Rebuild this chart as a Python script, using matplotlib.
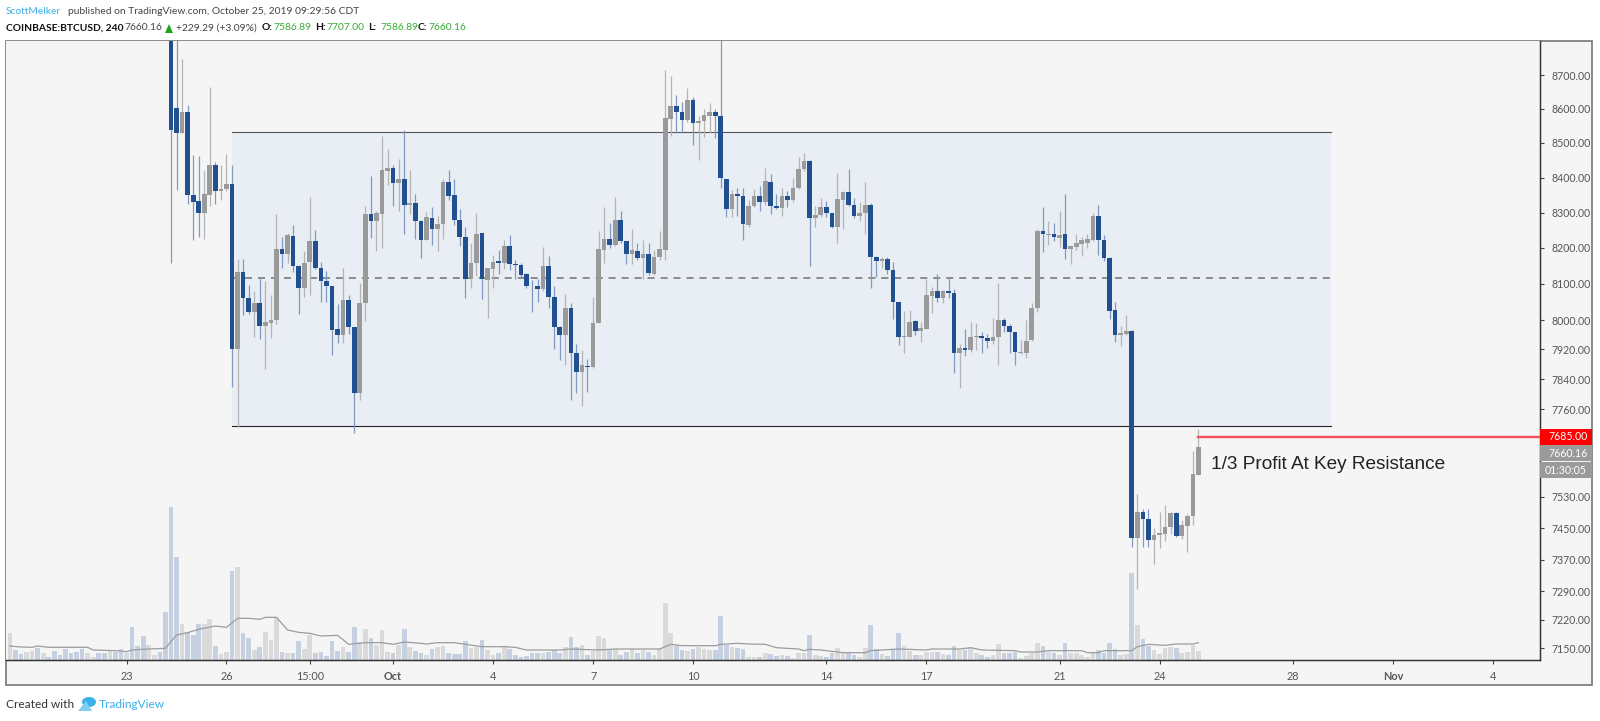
import matplotlib
matplotlib.use("Agg")
import matplotlib.pyplot as plt
from matplotlib.patches import Rectangle, Polygon, Ellipse

W, H = 1600, 721

# candles start at bar 8, bar 0 = Sep 23 00:00, one bar is 4 hours
first_candle = 8
opens = [8870, 8602, 8528, 8590, 8351, 8332, 8298, 8350, 8437, 8360,
         8368, 8382, 7920, 8132, 8060, 8022, 8046, 7983, 7991, 8000,
         8197, 8183, 8233, 8150, 8088, 8160, 8219, 8143, 8107, 8093,
         7975, 7958, 8054, 7980, 7802, 8046, 8296, 8277, 8296, 8420,
         8428, 8385, 8395, 8320, 8326, 8277, 8222, 8284, 8252, 8267,
         8388, 8349, 8280, 8230, 8116, 8158, 8243, 8110, 8140, 8162,
         8158, 8205, 8155, 8152, 8127, 8100, 8095, 8085, 8150, 8062,
         7980, 7958, 8033, 7910, 7858, 7875, 7872, 7991, 8194, 8225,
         8208, 8280, 8219, 8183, 8191, 8171, 8183, 8127, 8175, 8194,
         8570, 8608, 8590, 8567, 8626, 8558, 8564, 8578, 8590, 8580,
         8395, 8310, 8352, 8347, 8264, 8318, 8348, 8330, 8388, 8318,
         8312, 8346, 8335, 8370, 8424, 8448, 8284, 8293, 8315, 8298,
         8258, 8335, 8358, 8320, 8290, 8298, 8322, 8175, 8162, 8168,
         8138, 8049, 7953, 7955, 7997, 7970, 7975, 8066, 8080, 8060,
         8079, 8074, 7910, 7923, 7918, 7953, 7956, 7950, 7942, 7953,
         8000, 7983, 7966, 7910, 7910, 7945, 8033, 8248, 8235, 8238,
         8228, 8238, 8197, 8203, 8210, 8214, 8222, 8290, 8222, 8173,
         8028, 7958, 7961, 7970, 7426, 7490, 7474, 7420, 7433, 7436,
         7452, 7488, 7431, 7455, 7480, 7586.89]
closes = [8539, 8528, 8590, 8351, 8330, 8298, 8352, 8437, 8360, 8368,
          8382, 7920, 8132, 8060, 8022, 8046, 7983, 7994, 8000, 8197,
          8183, 8236, 8150, 8088, 8158, 8219, 8143, 8107, 8093, 7972,
          7958, 8054, 7980, 7802, 8046, 8296, 8277, 8299, 8422, 8428,
          8385, 8395, 8320, 8326, 8277, 8222, 8287, 8252, 8267, 8388,
          8346, 8280, 8230, 8113, 8158, 8240, 8113, 8143, 8160, 8158,
          8205, 8155, 8152, 8124, 8095, 8098, 8085, 8150, 8062, 7980,
          7958, 8033, 7910, 7858, 7877, 7872, 7991, 8197, 8225, 8208,
          8280, 8219, 8183, 8194, 8171, 8183, 8130, 8175, 8197, 8573,
          8608, 8590, 8567, 8626, 8558, 8564, 8582, 8590, 8578, 8398,
          8310, 8352, 8347, 8267, 8318, 8348, 8330, 8390, 8318, 8312,
          8346, 8335, 8370, 8424, 8448, 8284, 8293, 8315, 8298, 8258,
          8338, 8358, 8320, 8290, 8300, 8322, 8175, 8162, 8168, 8138,
          8049, 7953, 7957, 7994, 7970, 7978, 8068, 8080, 8060, 8080,
          8074, 7910, 7923, 7918, 7955, 7956, 7950, 7942, 7955, 8000,
          7983, 7966, 7912, 7914, 7942, 8033, 8248, 8238, 8238, 8230,
          8235, 8197, 8205, 8213, 8222, 8224, 8290, 8222, 8173, 8025,
          7958, 7964, 7970, 7426, 7490, 7474, 7420, 7433, 7438, 7454,
          7488, 7431, 7457, 7480, 7589, 7660.16]
highs = [8900, 8830, 8748, 8611, 8464, 8461, 8422, 8664, 8445, 8435,
         8467, 8435, 8170, 8168, 8096, 8080, 8118, 8107, 8070, 8295,
         8232, 8242, 8266, 8153, 8191, 8343, 8250, 8160, 8135, 8093,
         8043, 8143, 8068, 7980, 8102, 8318, 8404, 8305, 8520, 8482,
         8437, 8454, 8537, 8422, 8352, 8280, 8302, 8315, 8290, 8395,
         8422, 8395, 8310, 8260, 8214, 8300, 8243, 8143, 8180, 8194,
         8222, 8236, 8165, 8158, 8130, 8110, 8113, 8203, 8178, 8093,
         7983, 8073, 8046, 7934, 7918, 7893, 8062, 8248, 8315, 8270,
         8343, 8305, 8219, 8252, 8213, 8222, 8213, 8194, 8248, 8715,
         8697, 8640, 8620, 8661, 8635, 8578, 8600, 8617, 8600, 8815,
         8395, 8365, 8370, 8370, 8335, 8367, 8376, 8427, 8410, 8352,
         8370, 8362, 8400, 8460, 8470, 8450, 8318, 8340, 8332, 8300,
         8413, 8360, 8424, 8340, 8330, 8388, 8328, 8176, 8175, 8175,
         8160, 8050, 8025, 8028, 8000, 7994, 8113, 8090, 8127, 8082,
         8118, 8085, 7934, 7975, 7994, 7991, 7966, 7961, 8006, 8102,
         8006, 7989, 7966, 7945, 8000, 8046, 8252, 8315, 8275, 8270,
         8305, 8352, 8208, 8240, 8230, 8240, 8300, 8322, 8236, 8175,
         8049, 7983, 8014, 7972, 7537, 7500, 7500, 7451, 7490, 7510,
         7490, 7490, 7470, 7485, 7648, 7707]
lows = [8157, 8365, 8528, 8325, 8222, 8230, 8224, 8318, 8325, 8335,
        8360, 7820, 7712, 8014, 8017, 7953, 7947, 7867, 7950, 7989,
        8143, 8158, 8132, 8017, 8062, 8068, 8140, 8050, 8050, 7904,
        7937, 7937, 7961, 7697, 7783, 7997, 8228, 8191, 8200, 8380,
        8318, 8305, 8240, 8296, 8224, 8173, 8222, 8208, 8191, 8224,
        8335, 8264, 8205, 8060, 8088, 8121, 8057, 8006, 8088, 8127,
        8140, 8138, 8113, 8116, 8088, 8022, 8050, 8080, 8033, 7920,
        7890, 7877, 7783, 7802, 7767, 7805, 7870, 7991, 8158, 8200,
        8205, 8213, 8155, 8155, 8165, 8113, 8124, 8124, 8165, 8165,
        8520, 8530, 8530, 8561, 8495, 8450, 8517, 8530, 8514, 8370,
        8288, 8288, 8290, 8222, 8260, 8315, 8305, 8322, 8296, 8310,
        8290, 8315, 8330, 8368, 8420, 8150, 8258, 8288, 8288, 8255,
        8214, 8252, 8318, 8284, 8275, 8240, 8088, 8118, 8143, 8127,
        8003, 7932, 7910, 7953, 7958, 7940, 7975, 8020, 8050, 8047,
        8060, 7855, 7815, 7902, 7912, 7918, 7910, 7923, 7934, 7877,
        7966, 7910, 7877, 7908, 7896, 7942, 8022, 8188, 8208, 8219,
        8203, 8168, 8155, 8194, 8178, 8200, 8220, 8180, 8162, 8003,
        7940, 7928, 7958, 7403, 7297, 7403, 7403, 7360, 7400, 7418,
        7436, 7428, 7423, 7390, 7457, 7586.89]

# volume bars start left of the first visible candle
first_volume = -21
volumes = [80, 30, 17, 23, 28, 37, 20, 8, 28, 14, 33, 20, 25, 33, 20, 10, 20, 22, 28, 25, 33,
           20, 99, 42, 72, 45, 14, 25, 145, 460, 308, 108, 85, 75, 108, 108, 122, 42, 17, 25,
           268, 278, 80, 65, 30, 40, 85, 60, 125, 25, 20, 20, 57, 33, 75, 20, 25, 12, 57, 28,
           40, 25, 99, 55, 93, 65, 45, 90, 25, 20, 45, 93, 39, 28, 22, 15, 33, 38, 42, 22,
           18, 18, 57, 37, 40, 60, 30, 15, 22, 38, 32, 14, 8, 11, 20, 22, 22, 25, 30, 22,
           38, 68, 38, 45, 16, 28, 72, 65, 32, 32, 14, 25, 32, 20, 30, 25, 15, 35, 170, 82,
           42, 30, 28, 33, 38, 33, 30, 30, 133, 45, 38, 36, 32, 10, 8, 8, 20, 17, 11, 14,
           11, 6, 22, 20, 75, 15, 12, 9, 22, 37, 20, 20, 14, 8, 36, 105, 33, 17, 12, 32,
           82, 42, 28, 15, 14, 25, 25, 25, 18, 15, 42, 30, 30, 35, 22, 14, 8, 14, 47, 20,
           20, 23, 5, 12, 22, 50, 42, 25, 20, 15, 50, 22, 22, 15, 10, 22, 30, 22, 50, 33,
           15, 18, 260, 105, 62, 42, 30, 18, 37, 38, 35, 20, 23, 45, 28]
# b = down bar, g = up bar, one letter per volume bar
volume_kinds = ("gbbggbgbbbbbbbggbbgbb"
                "gbbbggbbbb" "gbbbggbggb" "gbbgbgggbg" "bbggbbbbbg" "bbggbgggbg"
                "bgbbgbggbb" "bbggbggbgb" "bbbbbgbbbg" "bbgbgggbgb" "bgbgbggggb"
                "bgbgggbbbg" "bbggbgbbgb" "gggbggbbgg" "bbggbbgbbb" "ggbgggbgbb"
                "gbggbbggbb" "bggggbgbgb" "gggggbbbbg" "gbgbbggggb" "gggg")

ma_bars = [-21, -19, -17, -16, -14, -7, -6, -2, 0, 1, 4, 7, 8, 9, 11, 13, 16, 18, 20, 22, 24, 25, 27,
           29, 31, 33, 35, 38, 40, 43, 46, 48, 50, 53, 54, 56, 59, 61, 64, 68, 70, 72, 78, 80, 85, 88,
           96, 98, 100, 106, 107, 110, 112, 115, 117, 121, 122, 123, 125, 126, 129, 133, 134, 139,
           144, 145, 150, 152, 154, 160, 161, 164, 166, 172, 173, 175, 176, 181, 182, 184, 187, 189,
           192, 193]
ma_values = [42, 39, 38, 42, 38, 38, 30, 28, 25, 30, 33, 35, 55, 75, 82, 92, 102, 98, 125, 125, 122, 128, 128,
             90, 83, 80, 72, 74, 47, 52, 52, 47, 54, 50, 48, 52, 52, 47, 40, 40, 38, 30, 30, 33, 30, 33,
             33, 47, 43, 43, 47, 50, 48, 47, 37, 33, 28, 32, 30, 28, 22, 22, 28, 33,
             30, 33, 33, 37, 30, 28, 24, 24, 28, 28, 22, 22, 28, 28, 40, 47, 44, 48,
             48, 52]

y_ticks = [8700, 8600, 8500, 8400, 8300, 8200, 8100, 8000, 7920, 7840, 7760, 7530, 7450, 7370, 7290, 7220, 7150]
x_tick_bars = [0, 18, 33, 48, 66, 84, 102, 126, 144, 168, 186, 210, 228, 246]
x_tick_labels = ["23", "26", "15:00", "Oct", "4", "7", "10", "14", "17", "21", "24", "28", "Nov", "4"]

# drawing levels
range_top, range_mid, range_bottom = 8532, 8115, 7714
range_left_bar, range_right_bar = 19, 216.8
target_price = 7685

blue = "#20508f"
grey = "#9a9a9a"
bg = "#f5f5f5"
scale_font = "Lato"


def fx(px):
    return px / W


def fy(py):
    return 1 - py / H


fig = plt.figure(figsize=(W / 100, H / 100), dpi=100, facecolor="white")

# outer frame of the chart, price scale and time scale included
fig.add_artist(Rectangle((fx(6), fy(685)), fx(1592) - fx(6), fy(41) - fy(685), transform=fig.transFigure,
                         facecolor=bg, edgecolor="#777777", linewidth=1.2, zorder=-1))

ax_vol = fig.add_axes([fx(6), fy(660), fx(1540) - fx(6), fy(41) - fy(660)])
ax = ax_vol.twinx()
ax.set_zorder(ax_vol.get_zorder() + 1)
ax.patch.set_visible(False)
ax_vol.set_facecolor(bg)

# volume, heights are on their own linear scale
vol_x = [first_volume + i for i in range(len(volumes))]
vol_colors = ["#c5d0e0" if kind == "b" else "#dadada" for kind in volume_kinds]
ax_vol.bar(vol_x, volumes, width=0.84, color=vol_colors, linewidth=0)
ax_vol.plot(ma_bars, ma_values, color="#9c9c9c", linewidth=0.9)
ax_vol.set_ylim(0, 1857)
ax_vol.set_yticks([])

# range box
ax.add_patch(Rectangle((range_left_bar, range_bottom), range_right_bar - range_left_bar,
                       range_top - range_bottom, facecolor="#e9eef5", edgecolor="none", zorder=1))
ax.plot([range_left_bar, range_right_bar], [range_top, range_top], color="#555555", lw=0.8, zorder=2)
ax.plot([range_left_bar, range_right_bar], [range_bottom, range_bottom], color="#222222", lw=0.8, zorder=2)
ax.plot([range_left_bar, range_right_bar], [range_mid, range_mid], color="#707070", lw=1.1,
        dashes=(4.6, 3.9), zorder=2)

# candles
for i in range(len(opens)):
    bar = first_candle + i
    down = closes[i] < opens[i]
    wick = "#7f99c2" if down else "#b4b4b4"
    ax.vlines(bar, lows[i], highs[i], color=wick, linewidth=0.9, zorder=3)
    ax.bar(bar, abs(closes[i] - opens[i]), bottom=min(opens[i], closes[i]), width=0.84,
           color=blue if down else grey, linewidth=0, zorder=4)

ax.plot([first_candle + len(opens) - 1, 254.5], [target_price, target_price], color="#f5505a", lw=1.7, zorder=5)
ax.text(193 + 2.3, 7615, "1/3 Profit At Key Resistance", fontsize=13.7, family="Liberation Sans",
        color="#222222", va="center", ha="left", zorder=6)

ax.set_yscale("log")
ax.set_ylim(7121, 8802)
ax.set_xlim(-21.7, 254.5)
ax.minorticks_off()
ax.set_yticks(y_ticks)
ax.set_yticklabels(["%.2f" % t for t in y_ticks], fontsize=7.6, color="#555555", family=scale_font)
ax.tick_params(axis="y", which="both", right=True, length=3, width=0.8, color="#444444", pad=5)
ax_vol.set_xticks(x_tick_bars)
ax_vol.set_xticklabels(x_tick_labels, fontsize=7.8, color="#555555", family=scale_font)
ax_vol.tick_params(axis="x", length=3, width=0.8, color="#444444", pad=5)
for lab in ax_vol.get_xticklabels():
    if lab.get_text() in ("Oct", "Nov"):
        lab.set_fontweight("bold")
ax_vol.set_xlim(-21.7, 254.5)

for a in (ax, ax_vol):
    a.spines["top"].set_visible(False)
    a.spines["left"].set_visible(False)
    a.spines["right"].set_color("#333333")
    a.spines["bottom"].set_color("#333333")
    a.spines["right"].set_linewidth(0.9)
    a.spines["bottom"].set_linewidth(0.9)


# price labels on the scale
def price_tag(text, py, color, px=1548):
    fig.add_artist(Rectangle((fx(1540), fy(py + 8)), fx(1592) - fx(1540), 16 / H,
                             transform=fig.transFigure, facecolor=color, edgecolor="none", zorder=10))
    fig.text(fx(px), fy(py), text, color="white", fontsize=7.6, family=scale_font,
             va="center", ha="left", zorder=11)


price_tag("7685.00", 437, "#ff0000")
price_tag("7660.16", 453, "#9a9a9a")
price_tag("01:30:05", 470, "#9a9a9a", px=1545)

# header lines
head = dict(fontsize=7.4, family="Lato", va="center", ha="left")
fig.text(fx(6), fy(12), "ScottMelker", color="#3bb0e6", **head)
fig.text(fx(68), fy(12), "published on TradingView.com, October 25, 2019 09:29:56 CDT", color="#444444", **head)
fig.text(fx(6), fy(28), "COINBASE:BTCUSD, 240", color="#111111", fontweight="bold", **head)
fig.text(fx(124), fy(28), "7660.16", color="#444444", **head)
fig.add_artist(Polygon([(fx(165), fy(33)), (fx(173), fy(33)), (fx(169), fy(24))], transform=fig.transFigure,
                       facecolor="#1aa51a", edgecolor="none"))
fig.text(fx(176), fy(28), "+229.29 (+3.09%)", color="#444444", **head)
for x_l, label, x_v, value in [(262, "O:", 273, "7586.89"), (315, "H:", 326, "7707.00"),
                               (368, "L:", 380, "7586.89"), (418, "C:", 428, "7660.16")]:
    fig.text(fx(x_l), fy(28), label, color="#111111", fontweight="bold", **head)
    fig.text(fx(x_v), fy(28), value, color="#35ab35", **head)

# footer with the small logo
foot = dict(fontsize=8.6, family="Lato", va="center", ha="left")
fig.text(fx(6), fy(704), "Created with", color="#333333", **foot)
fig.add_artist(Ellipse((fx(89), fy(702)), fx(14), 10 / H, transform=fig.transFigure, facecolor="#3bb0e6", edgecolor="none"))
fig.add_artist(Polygon([(fx(78), fy(711)), (fx(86), fy(701)), (fx(92), fy(711))], transform=fig.transFigure,
                       facecolor="#7fcdf0", edgecolor="none"))
fig.text(fx(99), fy(704), "TradingView", color="#3bb0e6", **foot)

fig.savefig("out.png", dpi=100, facecolor="white")
